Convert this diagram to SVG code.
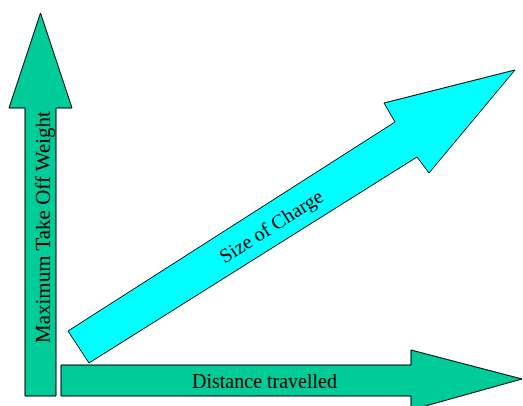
<svg xmlns="http://www.w3.org/2000/svg" width="523" height="406" viewBox="0 0 523 406">
<style>
.g{fill:#00CC99;stroke:#000;stroke-width:1}
.c{fill:#00FFFF;stroke:#000;stroke-width:1}
text{font-family:"Liberation Serif","Times New Roman",serif;font-size:20px;fill:#000;text-anchor:middle}
</style>
<rect width="523" height="406" fill="#fff"/>
<g id="mtow">
<polygon class="g" points="25,396 25,108 9,108 40.5,13 72,108 56,108 56,396"/>
<text transform="translate(40.5,227) rotate(-90)" x="0" y="9" style="font-size:21px">Maximum Take Off Weight</text>
</g>
<g id="distance">
<polygon class="g" points="61,365 411,365 411,350 522,379 411,410 411,396 61,396"/>
<text x="264.5" y="388">Distance travelled</text>
</g>
<g id="charge">
<polygon class="c" points="68,331 395,122 384,103 515,70 429,173 417,157 89,363"/>
<text transform="translate(271,226) rotate(-32.6)" x="0" y="7">Size of Charge</text>
</g>
<g id="connectors"></g>
</svg>
